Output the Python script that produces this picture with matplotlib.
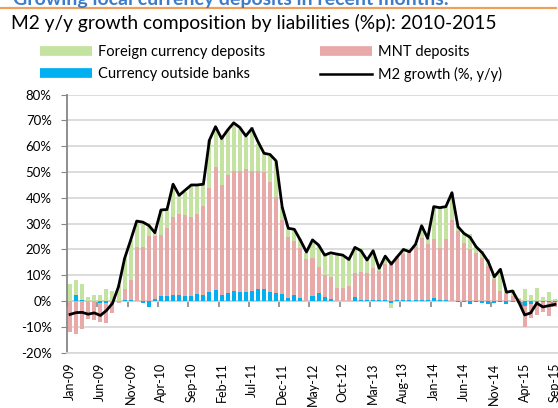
import numpy as np
import pandas as pd
import matplotlib
matplotlib.use("Agg")
import matplotlib.pyplot as plt
from matplotlib.lines import Line2D

plt.rcParams['font.family'] = ['Lato', 'DejaVu Sans']

# monthly categories Jan-09 .. Sep-15
months = pd.date_range('2009-01-01', periods=81, freq='MS').strftime('%b-%y').tolist()
tick_labels = ['Jan-09', 'Jun-09', 'Nov-09', 'Apr-10', 'Sep-10', 'Feb-11', 'Jul-11',
               'Dec-11', 'May-12', 'Oct-12', 'Mar-13', 'Aug-13', 'Jan-14', 'Jun-14',
               'Nov-14', 'Apr-15', 'Sep-15']

# contributions, %p
currency_outside = [0, 2.3, 0.5, 0.2, 0.2, -0.8, -0.8, 0, 0.2, 0.5,
                    0.5, 0, -0.6, -2.2, 0.7, 2, 2, 2.5, 2.5, 2,
                    2, 2.7, 2.5, 3.5, 4.3, 2.5, 3, 4, 3.5, 3.5,
                    4, 4.5, 4.5, 3.6, 3, 2.6, 1, 2.3, 1, 0,
                    2, 3, 1.4, 0.6, 0, 0, 0, 1.4, 0.5, 0.3,
                    0.3, 0.3, 0.3, -0.9, 0.3, 0.3, 0.5, 0.3, 0.3, 0.5,
                    1.3, 0.3, 0.3, 0, -0.2, -0.3, -1.3, -0.5, -0.7, -1,
                    -0.7, -0.3, -1, -0.5, -0.8, -2, -1, -0.5, -0.3, -0.3, -0.5]
mnt_deposits = [-11.9, -12.6, -11, -7, -7.3, -7.2, -7.7, -4.8, -0.8, 4,
                7.8, 21, 21, 25.3, 24.5, 23.5, 26.5, 29.9, 31.2, 31.3,
                30.6, 31.2, 34.3, 40.5, 47.7, 42.4, 45.8, 46.5, 47, 47.5,
                46.5, 46, 45.5, 42.6, 37.4, 29, 23.9, 21.1, 19.4, 16.1,
                14.5, 10, 8.6, 8.8, 4.9, 4.9, 5.8, 9.3, 10.9, 10.4,
                12.6, 11.4, 14, 15.5, 16.2, 17.9, 18.6, 20.7, 24.3, 21.5,
                22.6, 20.3, 23.6, 31.4, 27, 22.5, 20, 18.5, 16.5, 13.5,
                8.5, 4, 2.7, 1.8, 0.7, -7.9, -5.4, -4.9, -3.8, -5.5, -1.7]
fx_deposits = [6.6, 5.8, 6, 1.5, 2.3, 2.2, 4.7, 4, 6, 12,
               15.3, 10, 9.7, 5, 1, 9.8, 6.7, 12.9, 7.3, 9,
               12.3, 11.1, 8.7, 18.6, 15.5, 18.7, 17.4, 18.3, 16.3, 12.6,
               17, 10.5, 7.2, 9.9, 13.5, 4.9, 3, 4.1, 3.5, 2.4,
               6.5, 8.7, 7.4, 8.4, 12.9, 12.5, 10.7, 10.3, 9, 5.2,
               6.2, 1.6, 2.9, -1.9, 1, 2, 0.2, 1, 4.6, 2.3,
               12.7, 15.6, 12.7, 10.6, 2, 4, 6, 3, 3, 2.7,
               1.6, 8.6, 1.7, 2.6, 0.5, 4.5, 2.3, 4.9, 1.7, 3.6, 0.9]
m2_growth = [-5.2, -4.5, -4.4, -5.1, -4.6, -5.6, -3.7, -0.9, 5.6, 16.5,
             23.6, 31.0, 30.6, 29.3, 26.5, 35.3, 35.5, 45.3, 41.0, 43.0,
             45.0, 45.0, 45.3, 62.4, 67.6, 63.0, 66.3, 69.1, 67.3, 64.0,
             66.9, 61.8, 57.3, 56.8, 54.3, 36.4, 28.2, 27.8, 23.6, 19.0,
             23.7, 21.7, 17.8, 18.7, 18.2, 17.8, 16.1, 20.8, 19.5, 15.9,
             19.5, 12.7, 17.4, 14.3, 17.2, 20.0, 19.1, 22.0, 29.2, 24.3,
             36.6, 36.2, 36.6, 42.0, 28.8, 26.2, 24.7, 21.0, 18.7, 15.2,
             9.4, 12.3, 3.4, 3.9, -0.3, -5.4, -4.6, -0.8, -2.3, -1.8, -1.3]

GREEN = '#C4E3A1'
PINK = '#E8A9A9'
BLUE = '#00B0F0'
GRID = '#D9D9D9'
AXIS = '#868686'

W, H = 558, 408
fig = plt.figure(figsize=(W / 100, H / 100), dpi=100)
ax = fig.add_axes([67 / W, 1 - 352.6 / H, (W - 67) / W, (352.6 - 94.7) / H])

x = np.arange(len(months))
pos_base = np.zeros(len(x))
neg_base = np.zeros(len(x))
# stack order from the zero line outwards: currency, MNT, FX
for vals, col in [(currency_outside, BLUE), (mnt_deposits, PINK), (fx_deposits, GREEN)]:
    v = np.array(vals, dtype=float)
    bottom = np.where(v >= 0, pos_base, neg_base)
    ax.bar(x, v, width=0.66, bottom=bottom, color=col, zorder=2, linewidth=0)
    pos_base += np.clip(v, 0, None)
    neg_base += np.clip(v, None, 0)

ax.plot(x, m2_growth, color='black', lw=2.0, zorder=3)

ax.set_xlim(-0.5, len(x) - 0.5)
ax.set_ylim(-20, 80)
ax.set_yticks(range(-20, 81, 10))
ax.set_yticklabels([f'{v}%' for v in range(-20, 81, 10)])
ax.yaxis.grid(True, color=GRID, lw=1.3)
ax.set_axisbelow(True)

ax.set_xticks(x[::5])
ax.set_xticklabels(tick_labels, rotation=90, va='top', ha='center')
ax.tick_params(axis='x', length=0, pad=7, labelsize=9)
ax.tick_params(axis='y', length=4, color=AXIS, pad=7, labelsize=9.5)

for s in ['top', 'right']:
    ax.spines[s].set_visible(False)
ax.spines['bottom'].set_color(GRID)
ax.spines['bottom'].set_linewidth(1.3)
ax.spines['left'].set_color(AXIS)
ax.spines['left'].set_linewidth(1.3)

# category axis line at 0% with tick marks every 5 months
sec = ax.secondary_xaxis(0.2)
sec.set_xticks(np.arange(-0.5, len(x), 5))
sec.tick_params(axis='x', length=4, color=AXIS, width=1.2, labelbottom=False)
sec.spines['bottom'].set_color(AXIS)
sec.spines['bottom'].set_linewidth(1.3)

# headings
fig.text(13 / W, 1 - 4.5 / H, 'Growing local currency deposits in recent months:',
         fontsize=14, fontweight='bold', color='#3D7CC9', va='baseline', ha='left')
fig.add_artist(Line2D([0, 556 / W], [1 - 7.8 / H, 1 - 7.8 / H], color='#F0A05A', lw=1.6))
fig.text(11 / W, 1 - 29.5 / H, 'M2 y/y growth composition by liabilities (%p): 2010-2015',
         fontsize=13.75, va='baseline', ha='left')

handles = [Line2D([], [], color=GREEN, lw=7, solid_capstyle='butt'),
           Line2D([], [], color=BLUE, lw=7, solid_capstyle='butt'),
           Line2D([], [], color=PINK, lw=7, solid_capstyle='butt'),
           Line2D([], [], color='black', lw=1.8)]
labels = ['Foreign currency deposits', 'Currency outside banks',
          'MNT deposits', 'M2 growth (%, y/y)']
fig.legend(handles, labels, ncol=2, loc='upper left',
           bbox_to_anchor=(40 / W, 1 - 45 / H), frameon=False, fontsize=10.5,
           handlelength=3.55, handletextpad=0.42, columnspacing=3.75,
           labelspacing=0.55, borderpad=0, borderaxespad=0)

fig.savefig('out.png', dpi=100)
